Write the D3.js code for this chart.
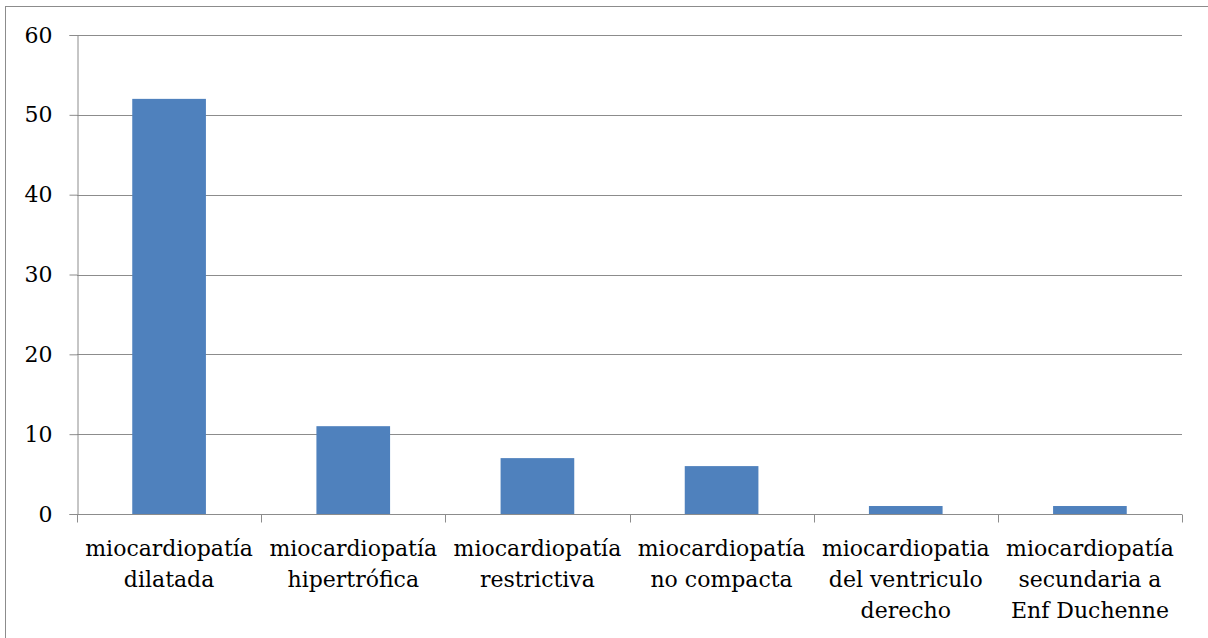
<!DOCTYPE html>
<html>
<head>
<meta charset="utf-8">
<script src="https://cdn.jsdelivr.net/npm/d3@7"></script>
<style>
  html, body { margin: 0; padding: 0; background: #fff; }
  svg { display: block; }
  text { font-family: "DejaVu Serif", serif; fill: #000; }
</style>
</head>
<body>
<svg id="chart" width="1208" height="638"></svg>
<script>
// Categories (each label split into its display lines)
const categories = [
  ["miocardiopatía", "dilatada"],
  ["miocardiopatía", "hipertrófica"],
  ["miocardiopatía", "restrictiva"],
  ["miocardiopatía", "no compacta"],
  ["miocardiopatia", "del ventriculo", "derecho"],
  ["miocardiopatía", "secundaria a", "Enf Duchenne"]
];
const values = [52, 11, 7, 6, 1, 1];
const yTicks = [0, 10, 20, 30, 40, 50, 60];

const svg = d3.select("#chart");
const W = 1208, H = 638;
const margin = { left: 77, right: 26, top: 35, bottom: 124 };
const x0 = margin.left, x1 = W - margin.right;
const y0 = H - margin.bottom, y1 = margin.top;

// Outer chart frame
svg.append("rect")
  .attr("x", 5.5).attr("y", 6.5)
  .attr("width", W).attr("height", H)
  .attr("fill", "none").attr("stroke", "#8c8c8c").attr("stroke-width", 1);

const keys = categories.map((d, i) => i);
const x = d3.scaleBand().domain(keys).range([x0, x1]).paddingInner(0.6).paddingOuter(0.3);
const xOuter = d3.scaleBand().domain(keys).range([x0, x1]);
const y = d3.scaleLinear().domain([0, 60]).range([y0, y1]);

// Horizontal gridlines
svg.append("g").selectAll("line")
  .data(yTicks.filter(t => t > 0))
  .join("line")
  .attr("x1", x0).attr("x2", x1)
  .attr("y1", d => Math.round(y(d)) + 0.5).attr("y2", d => Math.round(y(d)) + 0.5)
  .attr("stroke", "#8c8c8c").attr("stroke-width", 1);

// Bars
svg.append("g").selectAll("rect")
  .data(values)
  .join("rect")
  .attr("x", (d, i) => x(i))
  .attr("width", x.bandwidth())
  .attr("y", d => y(d))
  .attr("height", d => y(0) - y(d))
  .attr("fill", "#4f81bd");

// Y axis
const yAxis = svg.append("g")
  .attr("transform", `translate(${x0 + 0.5},0)`)
  .call(d3.axisLeft(y).tickValues(yTicks).tickSize(8).tickPadding(17).tickFormat(d3.format("d")));
yAxis.select(".domain").attr("stroke", "#8c8c8c");
yAxis.selectAll(".tick line").attr("stroke", "#8c8c8c");
yAxis.selectAll(".tick text").attr("font-size", 22).attr("font-family", "DejaVu Serif");

// X axis
const xAxis = svg.append("g")
  .attr("transform", `translate(0,${Math.round(y0) + 0.5})`);
xAxis.append("line")
  .attr("x1", x0).attr("x2", x1)
  .attr("stroke", "#8c8c8c");
const edges = keys.map(i => xOuter(i)).concat([x1]);
xAxis.selectAll("line.tick")
  .data(edges)
  .join("line")
  .attr("class", "tick")
  .attr("x1", d => Math.round(d) + 0.5).attr("x2", d => Math.round(d) + 0.5)
  .attr("y1", 0).attr("y2", 8)
  .attr("stroke", "#8c8c8c");

// Category labels
const labels = xAxis.selectAll("text.cat")
  .data(categories)
  .join("text")
  .attr("class", "cat")
  .attr("text-anchor", "middle")
  .attr("font-size", 22)
  .attr("transform", (d, i) => `translate(${xOuter(i) + xOuter.bandwidth() / 2},0)`);
labels.selectAll("tspan")
  .data(d => d)
  .join("tspan")
  .attr("x", 0)
  .attr("y", (d, j) => 41 + j * 31)
  .text(d => d);
</script>
</body>
</html>
